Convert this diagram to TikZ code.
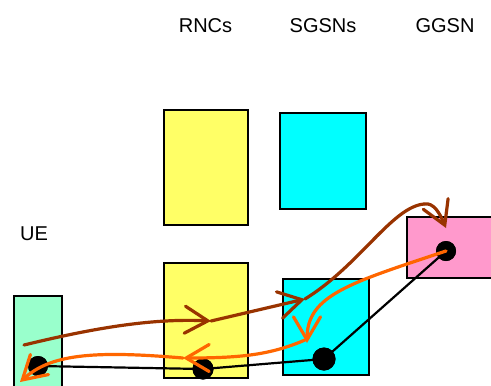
\documentclass[tikz,border=0pt]{standalone}
\usepackage{fontspec}
\setmainfont{Liberation Sans}
\usetikzlibrary{arrows.meta}
\definecolor{yel}{HTML}{FFFF66}
\definecolor{cya}{HTML}{00FFFF}
\definecolor{mint}{HTML}{99FFCC}
\definecolor{pink}{HTML}{FF99CC}
\definecolor{brn}{HTML}{993300}
\definecolor{org}{HTML}{FF6600}
\tikzset{
  box/.style={draw=black, line width=2.5bp, inner sep=0pt},
  lbl/.style={font=\fontsize{20bp}{24bp}\selectfont, anchor=base, inner sep=0pt},
  dot/.style={circle, fill=black, inner sep=0pt},
  link/.style={draw=black, line width=2.2bp},
  flow/.style={line width=3.2bp, line cap=round, line join=round,
     -{Straight Barb[length=23bp, width=27bp, line cap=round]}},
  flowplain/.style={line width=3.2bp, line cap=round},
}
\begin{document}
\begin{tikzpicture}[x=1bp, y=-1bp]
\useasboundingbox (0,0) rectangle (491,385);
\clip (0,0) rectangle (491,385);
% labels
\node[lbl] (tRNC) at (205.5,32) {RNCs};
\node[lbl] (tSGSN) at (323,32) {SGSNs};
\node[lbl] (tGGSN) at (445,32) {GGSN};
\node[lbl] (tUE) at (34,240) {UE};
% boxes
\node[box, fill=yel, minimum width=84bp, minimum height=115bp] (rncA) at (206,167.5) {};
\node[box, fill=cya, minimum width=86bp, minimum height=96bp] (sgsnA) at (323,161) {};
\node[box, fill=yel, minimum width=84bp, minimum height=115bp] (rncB) at (206,320.5) {};
\node[box, fill=cya, minimum width=86bp, minimum height=96bp] (sgsnB) at (326,327) {};
\node[box, fill=pink, minimum width=90bp, minimum height=61bp] (ggsn) at (452,247.5) {};
\node[box, fill=mint, minimum width=48bp, minimum height=100bp] (ue) at (38,346) {};
% dots
\node[dot, minimum size=20bp] (dUE) at (38,366) {};
\node[dot, minimum size=21bp] (dRNC) at (203,369) {};
\node[dot, minimum size=23bp] (dSGSN) at (324,359) {};
\node[dot, minimum size=20bp] (dGGSN) at (446,251) {};
\draw[link] (dUE.center) -- (dRNC.center) -- (dSGSN.center) -- (dGGSN.center);
\node[dot, minimum size=20bp] at (dUE.center) {};
\node[dot, minimum size=21bp] at (dRNC.center) {};
\node[dot, minimum size=23bp] at (dSGSN.center) {};
\node[dot, minimum size=20bp] at (dGGSN.center) {};
% brown flow
\coordinate (b0) at (24,345);
\coordinate (b1) at (211,321);
\coordinate (b2) at (305,299);
\coordinate (bp) at (424,204);
\coordinate (b3) at (446,228);
\draw[brn, flow] (b0) .. controls (90,329) and (150,318) .. (b1);
\draw[brn, flow] (b1) -- (b2);
\draw[brn, flowplain] (b2) .. controls (360,265) and (392,207) .. (bp);
\draw[brn, flow] (bp) .. controls (434,202) and (440,214) .. (b3);
% orange flow
\coordinate (o1) at (307,343);
\coordinate (o2) at (183,358);
\coordinate (o3) at (20,382);
\draw[org, flow] (dGGSN.center) .. controls (350,283) and (307,295) .. (o1);
\draw[org, flow] (305,340) .. controls (270,355) and (240,358) .. (o2);
\draw[org, flow] (o2) .. controls (90,350) and (50,355) .. (o3);
\end{tikzpicture}
\end{document}
